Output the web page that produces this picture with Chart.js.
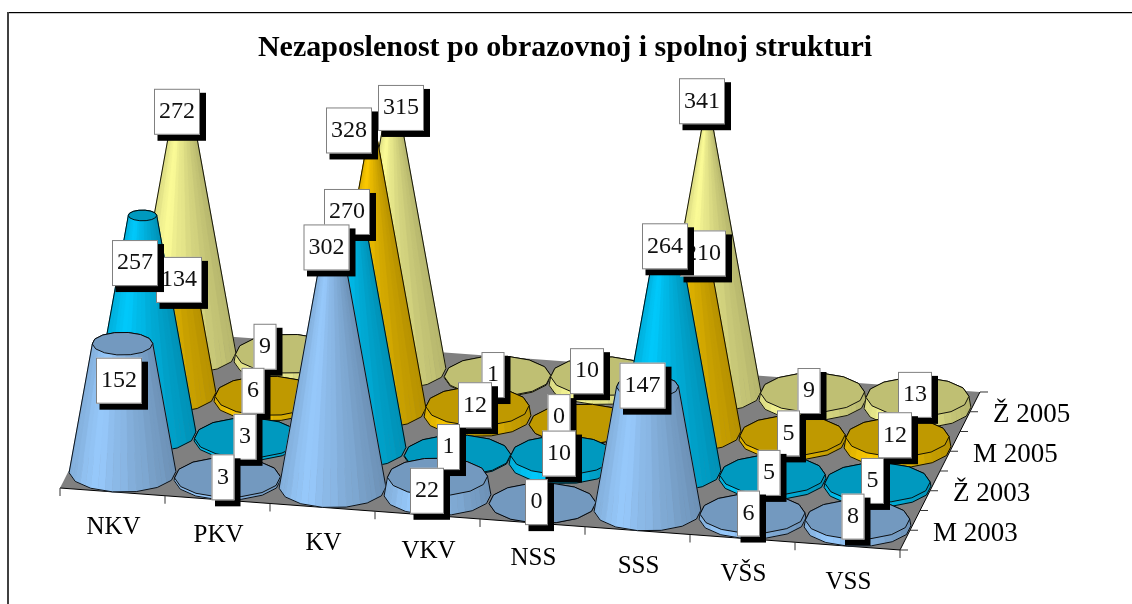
<!DOCTYPE html>
<html><head><meta charset="utf-8">
<style>html,body{margin:0;padding:0;background:#fff}canvas{display:block}</style>
<script src="https://cdn.jsdelivr.net/npm/chart.js@4"></script>
</head><body><canvas id="c" width="1132" height="604"></canvas>
<script>
const TITLE = 'Nezaposlenost po obrazovnoj i spolnoj strukturi';
const categories = ['NKV','PKV','KV','VKV','NSS','SSS','VŠS','VSS'];
const seriesNames = ['M 2003','Ž 2003','M 2005','Ž 2005'];
const m2003 = [152,3,302,22,0,147,6,8];
const z2003 = [257,3,270,1,10,264,5,5];
const m2005 = [134,6,328,12,0,210,5,12];
const z2005 = [272,9,315,1,10,341,9,13];
const VALUE_MAX = 350;

// styling and layout, separate from the data
const sideColors = ['#99CCFF','#00CCFF','#FFCC00','#FFFF99'];
const FONT = '"Liberation Serif","Times New Roman",serif';
const LEFT = 60, RIGHT_PAD = 232, FLOOR_Y = 488, UNIT = 0.845;
const TILT = 0.0738, ROW_DX = 20, ROW_DY = 39.5, SIDES = 14, BANDS = 3;
const labelNudge = [
 [[-3.5,37],[-4.5,0],[-6,15],[-10.5,14],[-6,-1],[-5,-1],[-4,0],[-4.5,-3]],
 [[-7.5,47.6],[-2.5,-1],[-5.5,-8],[-9,-8],[-3.5,-1.6],[-2.5,-2],[-3.5,-2],[-5,-1.7]],
 [[16.5,0],[-14.5,-5],[-23.5,-1],[-2.5,-1],[-23.5,-7],[15.5,-1],[-4,-2],[-2.5,-2]],
 [[-5.5,-12],[-22.5,-7],[8.5,5],[-4.5,-1],[-15.5,-5],[-5.5,-3],[-3.5,-1.5],[-2.5,-2]]
];
const boxWidth = {1:23,2:34,3:46};

function shade(hex,k){
  const n=parseInt(hex.slice(1),16);
  const f=v=>Math.max(0,Math.min(255,Math.round(v*k)));
  return `rgb(${f(n>>16&255)},${f(n>>8&255)},${f(n&255)})`;
}
function lightAt(f){ // f in -1..1 across the visible side
  const p=[[-1,.86],[-.55,1],[0,.9],[1,.72]];
  for(let i=1;i<p.length;i++) if(f<=p[i][0]){
    const a=p[i-1],b=p[i];return a[1]+(b[1]-a[1])*(f-a[0])/(b[0]-a[0]);
  }
  return .72;
}
function hull(pts){
  const s=pts.slice().sort((a,b)=>a.x-b.x||a.y-b.y);
  const cr=(o,a,b)=>(a.x-o.x)*(b.y-o.y)-(a.y-o.y)*(b.x-o.x);
  const lo=[],up=[];
  for(const p of s){while(lo.length>1&&cr(lo[lo.length-2],lo[lo.length-1],p)<=0)lo.pop();lo.push(p);}
  for(const p of s.slice().reverse()){while(up.length>1&&cr(up[up.length-2],up[up.length-1],p)<=0)up.pop();up.push(p);}
  return lo.slice(0,-1).concat(up.slice(0,-1));
}
function poly(ctx,pts){ctx.beginPath();pts.forEach((p,i)=>i?ctx.lineTo(p.x,p.y):ctx.moveTo(p.x,p.y));ctx.closePath();}
const mix=(a,b,t)=>({x:a.x+(b.x-a.x)*t,y:a.y+(b.y-a.y)*t});

const scene = {
  id:'scene',
  beforeDatasetsDraw(chart){
    const ctx=chart.ctx,a=chart.chartArea,ys=chart.scales.y,xs=chart.scales.x;
    const y0=ys.getPixelForValue(0), w=a.right-a.left, step=w/categories.length;
    const rows=seriesNames.length;
    const floor=(px,r)=>({x:px+ROW_DX*r,y:y0+TILT*(px-a.left)-ROW_DY*r});
    ctx.save();
    // frame
    ctx.fillStyle='#fff';ctx.fillRect(0,0,chart.width,chart.height);
    ctx.fillStyle='#c8c8c8';ctx.fillRect(8,13,chart.width-8,1);
    ctx.fillStyle='#000';ctx.fillRect(7,12,chart.width-7,1);
    ctx.fillStyle='#404040';ctx.fillRect(7,12,2,chart.height-12);
    // title
    ctx.fillStyle='#000';ctx.font='bold 30px '+FONT;ctx.textAlign='center';ctx.textBaseline='middle';
    ctx.fillText(TITLE,565,48);
    // floor
    poly(ctx,[floor(a.left,0),floor(a.right,0),floor(a.right,rows),floor(a.left,rows)]);
    ctx.fillStyle='#808080';ctx.fill();
    ctx.strokeStyle='#000';ctx.lineWidth=1;
    ctx.beginPath();
    let p=floor(a.left,0);ctx.moveTo(p.x,p.y);p=floor(a.right,0);ctx.lineTo(p.x,p.y);p=floor(a.right,rows);ctx.lineTo(p.x,p.y);ctx.stroke();
    // ticks
    ctx.strokeStyle='#333';
    ctx.beginPath();
    for(let c=0;c<=categories.length;c++){p=floor(a.left+c*step,0);ctx.moveTo(p.x,p.y);ctx.lineTo(p.x,p.y+8);}
    for(let r=0;r<=rows*2;r++){p=floor(a.right,r/2);ctx.moveTo(p.x,p.y);ctx.lineTo(p.x+8,p.y);}
    ctx.stroke();
    // axis text
    ctx.fillStyle='#000';ctx.font='25px '+FONT;ctx.textAlign='center';ctx.textBaseline='middle';
    categories.forEach((t,c)=>{const px=xs.getPixelForValue(c);ctx.fillText(t,px+1,y0+TILT*(px-a.left)+36);});
    ctx.textAlign='left';ctx.font='27px '+FONT;
    seriesNames.forEach((t,r)=>{p=floor(a.right,r);ctx.fillText(t,p.x+33,p.y-16-r*0.2);});
    // cones, back row first
    const U={x:step/2,y:TILT*step/2},V={x:ROW_DX/2,y:-ROW_DY/2};
    for(let r=rows-1;r>=0;r--){
      const meta=chart.getDatasetMeta(r),ds=chart.data.datasets[r],col=sideColors[r];
      meta.data.forEach((el,c)=>{
        const val=ds.data[c],b=floor(el.x,r+.5),h=y0-el.y;
        const rho=Math.max(0,1-val/VALUE_MAX);
        const bot=[],top=[];
        for(let i=0;i<SIDES;i++){
          const t=(i+.5)/SIDES*2*Math.PI,ct=Math.cos(t),st=Math.sin(t);
          const ox=ct*U.x+st*V.x,oy=ct*U.y+st*V.y;
          bot.push({x:b.x+ox,y:b.y+oy});
          top.push({x:b.x+ox*rho,y:b.y-h+oy*rho});
        }
        const xr=Math.hypot(U.x,V.x);
        const order=[...Array(SIDES).keys()].sort((i,j)=>((bot[i].y+bot[(i+1)%SIDES].y)-(bot[j].y+bot[(j+1)%SIDES].y)));
        for(const i of order){
          const j=(i+1)%SIDES;
          for(let k=0;k<BANDS;k++){
            const t0=k/BANDS,t1=(k+1)/BANDS;
            const b0=mix(bot[i],bot[j],t0),b1=mix(bot[i],bot[j],t1),q0=mix(top[i],top[j],t0),q1=mix(top[i],top[j],t1);
            const f=((b0.x+b1.x)/2-b.x)/xr,fc=shade(col,lightAt(f)*(k%2?1:.985));
            poly(ctx,[b0,b1,q1,q0]);ctx.fillStyle=fc;ctx.strokeStyle=fc;ctx.lineWidth=.6;ctx.fill();ctx.stroke();
          }
        }
        ctx.strokeStyle='#000';ctx.lineWidth=.9;
        poly(ctx,hull(bot.concat(top)));ctx.stroke();
        if(rho>.02){poly(ctx,top);ctx.fillStyle=shade(col,.75);ctx.fill();ctx.stroke();}
      });
    }
    // value labels, back row first
    ctx.font='24px '+FONT;ctx.textAlign='center';ctx.textBaseline='middle';
    for(let r=rows-1;r>=0;r--){
      const meta=chart.getDatasetMeta(r),ds=chart.data.datasets[r];
      meta.data.forEach((el,c)=>{
        const b=floor(el.x,r+.5),n=labelNudge[r][c];
        const cx=b.x+n[0],cy=b.y-(y0-el.y)+n[1],t=String(ds.data[c]);
        const bw=boxWidth[t.length],bh=46,x=cx-bw/2,y=cy-bh/2;
        ctx.fillStyle='#000';ctx.fillRect(x+3.5,y+4,bw+2.5,bh+2);
        ctx.fillStyle='#fff';ctx.fillRect(x,y,bw,bh);
        ctx.strokeStyle='#808080';ctx.lineWidth=1;ctx.strokeRect(x+.5,y+.5,bw-1,bh-1);
        ctx.fillStyle='#111';ctx.fillText(t,cx,cy);
      });
    }
    ctx.restore();
  }
};

new Chart(document.getElementById('c'),{
  type:'line',
  plugins:[scene],
  data:{labels:categories,datasets:[
    {label:seriesNames[0],data:m2003},
    {label:seriesNames[1],data:z2003},
    {label:seriesNames[2],data:m2005},
    {label:seriesNames[3],data:z2005}
  ].map((d,i)=>Object.assign(d,{showLine:false,pointRadius:0,backgroundColor:sideColors[i],borderColor:sideColors[i]}))},
  options:{
    responsive:false,animation:false,
    layout:{padding:{left:LEFT,right:RIGHT_PAD,top:FLOOR_Y-VALUE_MAX*UNIT,bottom:604-FLOOR_Y}},
    plugins:{legend:{display:false},title:{display:false},tooltip:{enabled:false}},
    scales:{
      x:{type:'category',display:false,offset:true},
      y:{type:'linear',display:false,min:0,max:VALUE_MAX}
    }
  }
});
</script></body></html>
